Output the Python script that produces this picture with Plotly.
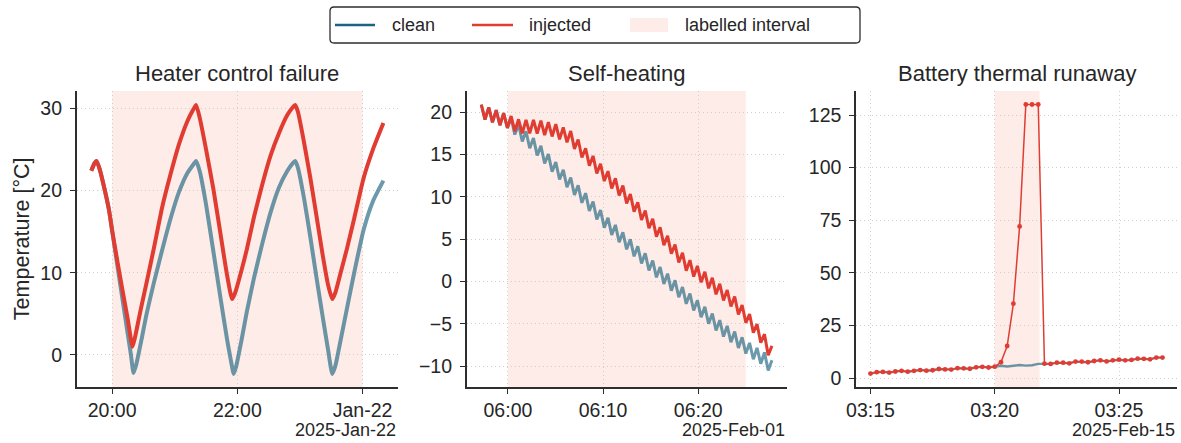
import pandas as pd
import plotly.graph_objects as go

W, H = 1181, 443

# ---------------- data ----------------
# Panel 1: Heater control failure (minutes relative to 2025-01-21 20:00)
heater_base = "2025-01-21 20:00"
heater_clean_min = [-20, -17, -15, -12, -7, -3, 0, 5, 10, 15, 18, 20.5, 23, 28, 33, 40, 48, 56, 64, 72,
                    78, 80.5, 84, 90, 97, 104, 110, 114, 116.5, 119, 124, 129, 136, 144, 152, 160, 168,
                    173, 175.5, 178, 184, 190, 196, 202, 207, 211, 214, 219, 225, 232, 241, 250, 260]
heater_clean_val = [22.4, 23.3, 23.6, 22.6, 20.0, 17.6, 15.1, 10.9, 6.7, 2.5, 0.0, -2.2, -1.2, 1.8, 5.0,
                    8.8, 12.8, 16.6, 19.8, 22.1, 23.2, 23.6, 22.3, 18.3, 12.6, 6.8, 2.0, -0.8, -2.3, -1.3,
                    1.8, 5.2, 9.4, 13.6, 17.4, 20.4, 22.4, 23.3, 23.6, 22.8, 19.0, 14.3, 9.3, 4.5, 0.6,
                    -2.3, -1.3, 1.8, 5.6, 10.0, 15.2, 18.7, 21.2]
heater_inj_min = [-20, -17, -15, -12, -7, -3, 0, 5, 10, 15, 19.5, 22, 27, 33, 40, 48, 56, 64, 72, 78,
                  80.5, 84, 90, 97, 104, 110, 115, 118, 124, 129, 136, 144, 152, 160, 168, 173, 175.5,
                  178, 184, 190, 196, 202, 207, 211, 214, 219, 225, 232, 241, 250, 260]
heater_inj_val = [22.4, 23.3, 23.6, 22.6, 20.0, 17.6, 15.1, 11.4, 7.8, 4.3, 1.0, 2.2, 5.3, 8.8, 13.0,
                  18.0, 22.0, 25.6, 28.4, 29.9, 30.4, 28.8, 25.0, 20.2, 14.6, 9.8, 6.8, 7.6, 10.3, 12.8,
                  16.8, 20.8, 24.3, 27.0, 29.2, 30.1, 30.4, 29.6, 25.8, 21.5, 16.8, 12.0, 8.5, 6.8, 7.6,
                  10.0, 12.9, 16.6, 21.5, 25.0, 28.2]
heater_interval = ["2025-01-21 20:00", "2025-01-22 00:00"]
heater_ticks = ["2025-01-21 20:00", "2025-01-21 22:00", "2025-01-22 00:00"]
heater_ticklabels = ["20:00", "22:00", "Jan-22"]
heater_offset = "2025-Jan-22"

# Panel 2: Self-heating (samples every 23.5 s from 05:57:12)
selfheat_start = "2025-02-01 05:57:12"
selfheat_step = "23500ms"
selfheat_clean = [20.90, 19.13, 20.56, 18.79, 20.23, 18.46, 19.89, 18.13, 19.36, 17.35,
                  18.55, 16.54, 17.74, 15.74, 16.94, 14.90, 16.02, 13.93, 15.05, 12.97,
                  14.10, 12.04, 13.19, 11.14, 12.28, 10.22, 11.36, 9.29, 10.43, 8.34,
                  9.44, 7.34, 8.45, 6.36, 7.53, 5.50, 6.68, 4.65, 5.82, 3.80,
                  4.98, 2.97, 4.16, 2.14, 3.33, 1.30, 2.48, 0.49, 1.70, -0.29,
                  0.92, -1.08, 0.13, -1.86, -0.65, -2.64, -1.43, -3.43, -2.22, -4.21,
                  -3.00, -4.99, -3.78, -5.78, -4.57, -6.51, -5.25, -7.18, -5.91, -7.85,
                  -6.59, -8.52, -7.26, -9.19, -7.85, -9.72, -8.38, -10.50, -9.30]
selfheat_inj = [20.90, 19.13, 20.56, 18.79, 20.23, 18.46, 19.89, 18.13, 19.54, 17.75,
                19.16, 17.50, 19.10, 17.50, 19.10, 17.48, 18.99, 17.30, 18.81, 17.13,
                18.58, 16.79, 18.21, 16.43, 17.77, 15.67, 16.77, 14.65, 15.74, 13.68,
                14.83, 12.77, 13.91, 11.86, 13.03, 11.00, 12.18, 10.15, 11.32, 9.23,
                10.34, 8.25, 9.36, 7.28, 8.39, 6.29, 7.40, 5.30, 6.40, 4.29,
                5.39, 3.27, 4.37, 2.26, 3.38, 1.28, 2.52, 0.58, 1.84, -0.10,
                1.15, -0.81, 0.44, -1.52, -0.28, -2.25, -1.01, -2.96, -1.77, -3.88,
                -2.78, -4.88, -3.85, -6.04, -5.03, -7.23, -6.22, -8.70, -7.60]
selfheat_interval = ["2025-02-01 06:00", "2025-02-01 06:25"]
selfheat_ticks = ["2025-02-01 06:00", "2025-02-01 06:10", "2025-02-01 06:20"]
selfheat_ticklabels = ["06:00", "06:10", "06:20"]
selfheat_offset = "2025-Feb-01"

# Panel 3: Battery thermal runaway (samples every 15 s from 03:15:00)
battery_start = "2025-02-15 03:15:00"
battery_step = "15s"
battery_clean = [2.2, 2.9, 3.0, 2.7, 3.2, 3.5, 3.1, 3.5, 3.9, 3.6, 3.8, 4.4, 4.2, 4.1, 4.8, 4.7,
                 4.5, 5.2, 5.4, 5.1, 5.5, 5.9, 5.6, 5.9, 6.3, 6.0, 6.2, 6.8, 6.9, 6.8, 7.4, 7.4,
                 7.1, 7.9, 7.9, 7.6, 8.2, 8.5, 8.0, 8.5, 8.8, 8.5, 8.7, 9.3, 9.2, 9.0, 9.8, 9.8]
battery_inj = [2.2, 2.9, 3.0, 2.7, 3.2, 3.5, 3.1, 3.5, 3.9, 3.6, 3.8, 4.4, 4.2, 4.1, 4.8, 4.7,
               4.5, 5.2, 5.4, 5.1, 5.5, 7.6, 15.3, 35.4, 72.1, 130.0, 130.0, 130.0, 6.9, 6.8, 7.4, 7.4,
               7.1, 7.9, 7.9, 7.6, 8.2, 8.5, 8.0, 8.5, 8.8, 8.5, 8.7, 9.3, 9.2, 9.0, 9.8, 9.8]
battery_interval = ["2025-02-15 03:20:00", "2025-02-15 03:21:48"]
battery_ticks = ["2025-02-15 03:15", "2025-02-15 03:20", "2025-02-15 03:25"]
battery_ticklabels = ["03:15", "03:20", "03:25"]
battery_offset = "2025-Feb-15"

titles = ["Heater control failure", "Self-heating", "Battery thermal runaway"]
ylabel = "Temperature [°C]"
legend_labels = ["clean", "injected", "labelled interval"]

# ---------------- style ----------------
FONT = "Liberation Sans, Arial, sans-serif"
TXT = "#262626"
AX = "#2e2e2e"
CLEAN_LEG = "#1b6480"
CLEAN_LINE = "rgba(27,100,128,0.65)"
INJ = "#e03c32"
SHADE = "rgba(236,110,80,0.13)"
GRID = "#cfcfcf"


def px(x):
    return x / W


def py(y):
    return 1 - y / H


xdom = [[px(76.7), px(398)], [px(466.7), px(787)], [px(856), px(1177)]]
ydom = [py(387.3), py(91)]

heater_t_clean = pd.Timestamp(heater_base) + pd.to_timedelta(heater_clean_min, unit="min")
heater_t_inj = pd.Timestamp(heater_base) + pd.to_timedelta(heater_inj_min, unit="min")
selfheat_t = pd.date_range(selfheat_start, periods=len(selfheat_clean), freq=selfheat_step)
battery_t = pd.date_range(battery_start, periods=len(battery_clean), freq=battery_step)

fig = go.Figure()

# panel 1
fig.add_trace(go.Scatter(x=heater_t_clean, y=heater_clean_val, mode="lines", name="clean",
                         line=dict(color=CLEAN_LINE, width=4, shape="spline", smoothing=0.5),
                         xaxis="x", yaxis="y", showlegend=False))
fig.add_trace(go.Scatter(x=heater_t_inj, y=heater_inj_val, mode="lines", name="injected",
                         line=dict(color=INJ, width=4, shape="spline", smoothing=0.5),
                         xaxis="x", yaxis="y", showlegend=False))
# panel 2
fig.add_trace(go.Scatter(x=selfheat_t, y=selfheat_clean, mode="lines", name="clean",
                         line=dict(color=CLEAN_LINE, width=3), xaxis="x2", yaxis="y2", showlegend=False))
fig.add_trace(go.Scatter(x=selfheat_t, y=selfheat_inj, mode="lines", name="injected",
                         line=dict(color=INJ, width=3), xaxis="x2", yaxis="y2", showlegend=False))
# panel 3
fig.add_trace(go.Scatter(x=battery_t, y=battery_clean, mode="lines", name="clean",
                         line=dict(color=CLEAN_LINE, width=2.4), xaxis="x3", yaxis="y3", showlegend=False))
fig.add_trace(go.Scatter(x=battery_t, y=battery_inj, mode="lines+markers", name="injected",
                         line=dict(color=INJ, width=1.5), marker=dict(color=INJ, size=4.8),
                         xaxis="x3", yaxis="y3", showlegend=False))

shapes = []
for i, iv in enumerate([heater_interval, selfheat_interval, battery_interval]):
    xr = "x" if i == 0 else f"x{i + 1}"
    yr = "y" if i == 0 else f"y{i + 1}"
    shapes.append(dict(type="rect", xref=xr, yref=f"{yr} domain", x0=iv[0], x1=iv[1], y0=0, y1=1,
                       fillcolor=SHADE, line=dict(width=0), layer="below"))

# manual legend
lx0, lx1, ly0, ly1, r = 330, 860, 7, 43, 4
path = (f"M{px(lx0 + r)},{py(ly0)} L{px(lx1 - r)},{py(ly0)} Q{px(lx1)},{py(ly0)} {px(lx1)},{py(ly0 + r)} "
        f"L{px(lx1)},{py(ly1 - r)} Q{px(lx1)},{py(ly1)} {px(lx1 - r)},{py(ly1)} "
        f"L{px(lx0 + r)},{py(ly1)} Q{px(lx0)},{py(ly1)} {px(lx0)},{py(ly1 - r)} "
        f"L{px(lx0)},{py(ly0 + r)} Q{px(lx0)},{py(ly0)} {px(lx0 + r)},{py(ly0)} Z")
shapes.append(dict(type="path", xref="paper", yref="paper", path=path, fillcolor="white",
                   line=dict(color=AX, width=1.3)))
shapes.append(dict(type="line", xref="paper", yref="paper", x0=px(335), x1=px(375), y0=py(25), y1=py(25),
                   line=dict(color=CLEAN_LEG, width=2.6)))
shapes.append(dict(type="line", xref="paper", yref="paper", x0=px(472), x1=px(513), y0=py(25), y1=py(25),
                   line=dict(color=INJ, width=2.6)))
shapes.append(dict(type="rect", xref="paper", yref="paper", x0=px(630), x1=px(668), y0=py(32), y1=py(18),
                   fillcolor=SHADE, line=dict(width=0)))

annotations = []
for lab, x in zip(legend_labels, [390, 527, 683]):
    annotations.append(dict(text=lab, xref="paper", yref="paper", x=px(x), y=py(25), xanchor="left",
                            yanchor="middle", showarrow=False, font=dict(size=18, color=TXT, family=FONT)))
for t, d in zip(titles, xdom):
    annotations.append(dict(text=t, xref="paper", yref="paper", x=(d[0] + d[1]) / 2, y=py(73),
                            xanchor="center", yanchor="middle", showarrow=False,
                            font=dict(size=22, color=TXT, family=FONT)))
for t, d in zip([heater_offset, selfheat_offset, battery_offset], xdom):
    annotations.append(dict(text=t, xref="paper", yref="paper", x=d[1], y=py(430),
                            xanchor="right", yanchor="middle", showarrow=False,
                            font=dict(size=18, color=TXT, family=FONT)))
annotations.append(dict(text=ylabel, xref="paper", yref="paper", x=px(22), y=(ydom[0] + ydom[1]) / 2,
                        textangle=-90, xanchor="center", yanchor="middle", showarrow=False,
                        font=dict(size=21.5, color=TXT, family=FONT)))

axis_common = dict(showline=True, linecolor=AX, linewidth=1.5, ticks="outside", ticklen=5,
                   tickwidth=1.3, tickcolor=AX, showgrid=True, gridcolor=GRID, griddash="1px,3px",
                   gridwidth=1, zeroline=False, tickfont=dict(size=19.5, color=TXT, family=FONT),
                   automargin=False, mirror=False)

xranges = [["2025-01-21 19:26", "2025-01-22 00:34"],
           ["2025-02-01 05:55:40", "2025-02-01 06:29:20"],
           ["2025-02-15 03:14:25", "2025-02-15 03:27:20"]]
xticks = [(heater_ticks, heater_ticklabels), (selfheat_ticks, selfheat_ticklabels),
          (battery_ticks, battery_ticklabels)]
yranges = [[-3.93, 32.1], [-12.5, 22.5], [-4.3, 136.4]]
ytickv = [[0, 10, 20, 30], [-10, -5, 0, 5, 10, 15, 20], [0, 25, 50, 75, 100, 125]]

layout = dict(width=W, height=H, margin=dict(l=0, r=0, t=0, b=0), autosize=False,
              paper_bgcolor="white", plot_bgcolor="white", showlegend=False,
              shapes=shapes, annotations=annotations, font=dict(family=FONT, color=TXT))
for i in range(3):
    xk = "xaxis" if i == 0 else f"xaxis{i + 1}"
    yk = "yaxis" if i == 0 else f"yaxis{i + 1}"
    ya = "y" if i == 0 else f"y{i + 1}"
    xa = "x" if i == 0 else f"x{i + 1}"
    layout[xk] = dict(axis_common, type="date", domain=xdom[i], range=xranges[i], anchor=ya,
                      tickmode="array", tickvals=xticks[i][0], ticktext=xticks[i][1])
    layout[yk] = dict(axis_common, domain=ydom, range=yranges[i], anchor=xa, tickmode="array",
                      tickvals=ytickv[i], ticktext=[str(v).replace("-", "\u2212") for v in ytickv[i]],
                      ticklabelstandoff=4)

fig.update_layout(**layout)
fig.write_html("out.html")
